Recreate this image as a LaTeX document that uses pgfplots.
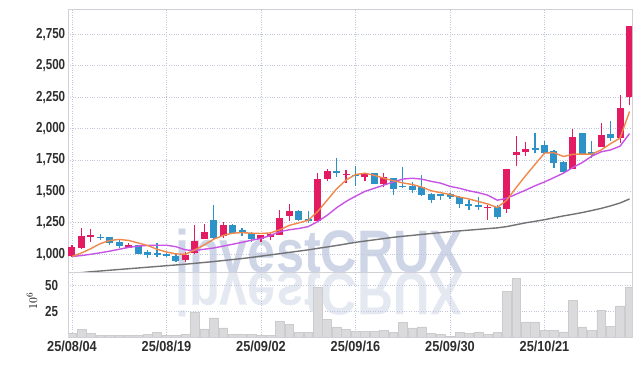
\documentclass[border=0pt]{standalone}
\usepackage{fontspec}
\setmainfont{Liberation Sans}
\usepackage{pgfplots}
\usepackage{pgfplotstable}
\pgfplotsset{compat=1.18}
\definecolor{upc}{RGB}{226,27,99}
\definecolor{dnc}{RGB}{44,146,199}
\definecolor{ma5}{RGB}{240,136,76}
\definecolor{ma20}{RGB}{200,84,230}
\definecolor{ma60}{RGB}{115,115,118}
\definecolor{gridc}{RGB}{192,198,220}
\definecolor{framec}{RGB}{208,208,214}
\definecolor{wm}{RGB}{206,213,230}
\definecolor{wm2}{RGB}{228,232,241}
\definecolor{volc}{RGB}{218,218,220}

\pgfplotstableread{
x o h l c
0 983 1076 977 1054
1 1049 1208 1045 1147
2 1140 1200 1100 1152
6 1050 1089 1049 1070
12 956 1020 935 996
13 1010 1230 1000 1107
14 1123 1240 1120 1177
16 1147 1255 1130 1235
20 1125 1155 1100 1150
21 1140 1180 1110 1165
22 1155 1354 1150 1288
23 1306 1400 1261 1346
26 1261 1646 1255 1598
27 1598 1680 1580 1659
29 1632 1672 1566 1642
31 1614 1650 1580 1646
33 1560 1646 1532 1611
44 1368 1394 1275 1378
46 1360 1680 1330 1678
47 1790 1943 1700 1813
48 1812 1890 1784 1840
53 1678 2000 1675 1933
56 1857 2048 1850 1950
58 1926 2266 1885 2160
59 2248 2815 2185 2813
}\upcandles

\pgfplotstableread{
x o h l c
3 1140 1165 1110 1130
4 1137 1140 1076 1089
5 1094 1115 1050 1068
7 1070 1075 1000 1004
8 1017 1036 970 996
9 1010 1089 975 996
10 1004 1010 975 985
11 990 1000 935 945
15 1275 1390 1123 1129
17 1235 1240 1165 1173
18 1195 1210 1142 1170
19 1169 1175 1100 1121
24 1346 1350 1265 1275
25 1283 1346 1248 1262
28 1665 1765 1614 1648
30 1634 1700 1540 1622
32 1646 1650 1555 1559
34 1606 1610 1474 1519
35 1545 1694 1530 1532
36 1540 1571 1487 1515
37 1532 1633 1460 1474
38 1481 1485 1408 1434
39 1476 1478 1434 1466
40 1481 1490 1440 1455
41 1455 1460 1368 1400
42 1402 1430 1354 1382
43 1394 1455 1349 1376
45 1375 1394 1280 1296
49 1842 1964 1805 1832
50 1871 1897 1800 1805
51 1818 1832 1690 1725
52 1730 1740 1645 1651
54 1964 1966 1795 1797
55 1810 1897 1765 1793
57 1958 2060 1900 1925
}\downcandles

\pgfplotstableread{
x a b g
0 982 982 848
1 1010 990 854
2 1045 1000 861
3 1085 1012 867
4 1110 1025 873
5 1118 1040 879
6 1110 1055 885
7 1090 1065 891
8 1070 1070 897
9 1040 1072 903
10 1018 1072 909
11 1003 1060 915
12 1000 1035 921
13 1035 1030 928
14 1075 1040 935
15 1120 1050 942
16 1150 1065 950
17 1168 1080 958
18 1172 1095 966
19 1168 1112 975
20 1165 1125 985
21 1170 1150 995
22 1195 1180 1005
23 1230 1195 1015
24 1250 1205 1025
25 1270 1220 1035
26 1340 1260 1047
27 1430 1310 1058
28 1520 1370 1070
29 1590 1420 1082
30 1634 1462 1095
31 1645 1500 1105
32 1628 1525 1115
33 1605 1550 1125
34 1585 1575 1135
35 1568 1598 1143
36 1555 1605 1150
37 1535 1598 1158
38 1505 1580 1165
39 1490 1566 1172
40 1475 1540 1180
41 1455 1525 1186
42 1440 1505 1192
43 1420 1490 1198
44 1400 1470 1204
45 1372 1430 1210
46 1430 1445 1220
47 1530 1478 1235
48 1625 1510 1250
49 1715 1545 1262
50 1805 1575 1275
51 1808 1610 1290
52 1778 1645 1305
53 1795 1690 1318
54 1797 1730 1332
55 1797 1780 1348
56 1830 1815 1365
57 1880 1830 1385
58 1925 1860 1408
59 2136 1960 1440
}\malines

\pgfplotstableread{
x v
0 3.2
1 7.4
2 3.5
3 1.6
4 1.6
5 1.6
6 1.6
7 1.6
8 2.6
9 4.2
10 1.6
11 1.4
12 2.6
13 24.4
14 8.0
15 18.6
16 9.0
17 2.2
18 2.2
19 2.2
20 1.4
21 1.4
22 15.4
23 12.2
24 4.2
25 4.2
26 48.4
27 17.0
28 9.9
29 7.4
30 5.8
31 5.8
32 5.8
33 6.7
34 4.8
35 14.4
36 9.0
37 9.9
38 3.2
39 2.2
40 0.8
41 4.2
42 3.2
43 4.8
44 2.2
45 4.2
46 44.2
47 57.0
48 14.7
49 14.7
50 6.7
51 6.1
52 5.1
53 35.6
54 9.9
55 6.1
56 26.3
57 10.6
58 30.4
59 48.4
}\volume

\pgfplotsset{
  base/.style={
    scale only axis, width=564pt,
    xmin=-0.423, xmax=59.26,
    axis line style={framec},
    major tick length=0pt,
    grid=major,
    major grid style={gridc, dotted, line width=0.8pt},
    xtick={0,10,20,30,40,50},
    tick label style={font=\fontsize{14.5}{15}\selectfont\bfseries, color=black!82},
    /pgf/number format/assume math mode=true,
  },
  candle/.style n args={2}{draw=none, no markers, forget plot,
    error bars/.cd, y dir=plus, y explicit, error mark=none,
    error bar style={draw=#1, line width=#2}},
}

\begin{document}
\begin{tikzpicture}
\useasboundingbox (0,0) rectangle (642pt,366pt);
% watermark and its reflection
\node[anchor=base west, inner sep=0pt, xscale=0.84, text=wm, font=\fontsize{60}{60}\selectfont\bfseries] at (175pt,93pt) {investCRUX};
\node[anchor=base west, inner sep=0pt, xscale=0.84, yscale=-1, text=wm2, font=\fontsize{60}{60}\selectfont\bfseries] at (175pt,92pt) {investCRUX};

\begin{axis}[base, at={(68pt,94pt)}, anchor=south west, height=263pt,
  ymin=859, ymax=2951, ytick={1000,1250,...,2750},
  xticklabels={},
  yticklabel style={xscale=0.8},
  /pgf/number format/1000 sep={,}]
% wicks
\addplot[candle={upc}{1.2pt}]
  table[x=x, y=l, y error plus expr={\thisrow{h}-\thisrow{l}}] {\upcandles};
\addplot[candle={dnc}{1.2pt}]
  table[x=x, y=l, y error plus expr={\thisrow{h}-\thisrow{l}}] {\downcandles};
% bodies
\addplot[candle={upc}{7pt}]
  table[x=x, y expr={min(\thisrow{o},\thisrow{c})}, y error plus expr={abs(\thisrow{c}-\thisrow{o})}] {\upcandles};
\addplot[candle={dnc}{7pt}]
  table[x=x, y expr={min(\thisrow{o},\thisrow{c})}, y error plus expr={abs(\thisrow{c}-\thisrow{o})}] {\downcandles};
% moving averages
\addplot[ma60, line width=1.4pt, mark=none] table[x=x, y=g] {\malines};
\addplot[ma20, line width=1.4pt, mark=none] table[x=x, y=b] {\malines};
\addplot[ma5, line width=1.4pt, mark=none] table[x=x, y=a] {\malines};
\end{axis}

\begin{axis}[base, at={(68pt,29pt)}, anchor=south west, height=65pt,
  ymin=0, ymax=63.4, ytick={25,50},
  xticklabels={25/08/04,25/08/19,25/09/02,25/09/16,25/09/30,25/10/21},
  xticklabel style={xscale=0.88},
  yticklabel style={xscale=0.8, xshift=-9pt}]
\addplot[ybar, bar width=8.8pt, fill=volc, draw=black!20, line width=0.5pt] table[x=x, y=v] {\volume};
\end{axis}

\node[rotate=90, font=\fontsize{13}{13}\selectfont] at (32pt,65pt) {$10^6$};
\end{tikzpicture}
\end{document}
